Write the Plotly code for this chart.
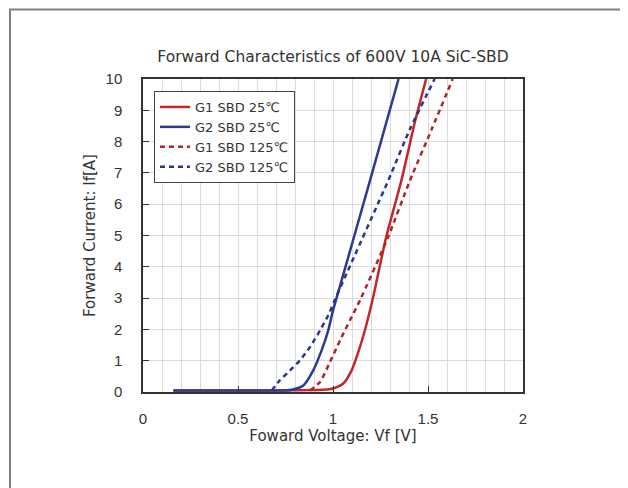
import plotly.graph_objects as go

# ---- data ----
g1_25_v = [0.16, 0.6, 0.95, 1.0, 1.054, 1.098, 1.142, 1.177, 1.212, 1.28, 1.36, 1.43, 1.49]
g1_25_i = [0.05, 0.05, 0.07, 0.11, 0.27, 0.69, 1.44, 2.18, 3.05, 4.95, 6.76, 8.6, 10]

g2_25_v = [0.16, 0.6, 0.75, 0.782, 0.844, 0.896, 0.94, 0.975, 1.0, 1.033, 1.195, 1.345]
g2_25_i = [0.05, 0.05, 0.05, 0.07, 0.21, 0.69, 1.33, 1.97, 2.61, 3.3, 6.76, 10]

g1_125_v = [0.879, 0.932, 0.984, 1.037, 1.089, 1.142, 1.29, 1.405, 1.52, 1.63]
g1_125_i = [0.05, 0.32, 0.96, 1.65, 2.29, 2.93, 4.95, 6.76, 8.4, 10]

g2_125_v = [0.677, 0.72, 0.774, 0.826, 0.879, 0.932, 0.975, 1.01, 1.063, 1.291, 1.405, 1.535]
g2_125_i = [0.05, 0.37, 0.69, 1.01, 1.44, 1.97, 2.45, 2.95, 3.67, 6.76, 8.4, 10]

series_names = ["G1 SBD 25℃", "G2 SBD 25℃", "G1 SBD 125℃", "G2 SBD 125℃"]
x_ticks = [0, 0.5, 1, 1.5, 2]
x_tick_labels = ["0", "0.5", "1", "1.5", "2"]
y_ticks = list(range(0, 11))

RED = "#c4262b"
BLUE = "#2e3a92"
FONT = "DejaVu Sans"
TICKFONT = "Liberation Sans"
TXT = "#333333"

fig = go.Figure()
specs = [
    (g1_25_v, g1_25_i, series_names[0], RED, "solid"),
    (g2_25_v, g2_25_i, series_names[1], BLUE, "solid"),
    (g1_125_v, g1_125_i, series_names[2], "#b0242a", "5px,4px"),
    (g2_125_v, g2_125_i, series_names[3], "#2a368c", "5px,4px"),
]
for v, i, name, color, dash in specs:
    fig.add_trace(go.Scatter(
        x=v, y=i, name=name, mode="lines",
        line=dict(color=color, width=2.5, dash=dash, shape="spline", smoothing=0.6),
    ))

# page has an 8px body margin; figure coordinates are offset by it
OFF = 8
W, H = 628, 488
L, T = 143 - OFF, 79 - OFF
PW, PH = 380, 313
R = W - L - PW
B = H - T - PH


def px(xp):
    return (xp - OFF - L) / PW


def py(yp):
    return (T + PH - (yp - OFF)) / PH


# outer picture border (top and left edges)
fig.add_shape(type="path", xref="paper", yref="paper",
              path=f"M {px(10)} {py(500)} L {px(10)} {py(9.5)} L {px(640)} {py(9.5)}",
              line=dict(color="#808080", width=2))

fig.update_layout(
    width=W, height=H,
    margin=dict(l=L, r=R, t=T, b=B),
    paper_bgcolor="white", plot_bgcolor="white",
    font=dict(family=FONT, size=15, color=TXT),
    title=dict(text="Forward Characteristics of 600V 10A SiC-SBD",
               x=0.5, xref="paper", y=1 - (57 - OFF) / H, yref="container",
               xanchor="center", yanchor="middle",
               font=dict(family=FONT, size=15.5, color=TXT)),
    showlegend=True,
    legend=dict(x=px(154), y=py(91), xanchor="left", yanchor="top",
                bgcolor="white", bordercolor="#444444", borderwidth=1,
                font=dict(family=FONT, size=13, color=TXT),
                itemwidth=30, tracegroupgap=0),
    xaxis=dict(range=[0, 2], tickvals=x_ticks, ticktext=x_tick_labels,
               tickfont=dict(family=TICKFONT, size=15, color=TXT),
               showline=True, mirror=True, linecolor="#333333", linewidth=1.5,
               ticks="inside", ticklen=6, tickcolor="#333333",
               showgrid=True, gridcolor="#dcdcdc", gridwidth=1,
               minor=dict(dtick=0.1, showgrid=True, gridcolor="#dcdcdc", gridwidth=1),
               zeroline=False, ticklabelstandoff=12,
               title=dict(text="Foward Voltage: Vf [V]", standoff=5,
                          font=dict(family=FONT, size=15, color=TXT))),
    yaxis=dict(range=[0, 10], tickvals=y_ticks,
               tickfont=dict(family=TICKFONT, size=15, color=TXT),
               showline=True, mirror=True, linecolor="#333333", linewidth=1.5,
               ticks="inside", ticklen=6, tickcolor="#333333",
               showgrid=True, gridcolor="#dcdcdc", gridwidth=1,
               zeroline=False, ticklabelstandoff=16,
               title=dict(text="Forward Current: If[A]", standoff=6,
                          font=dict(family=FONT, size=15, color=TXT))),
)

fig.write_html("out.html")
